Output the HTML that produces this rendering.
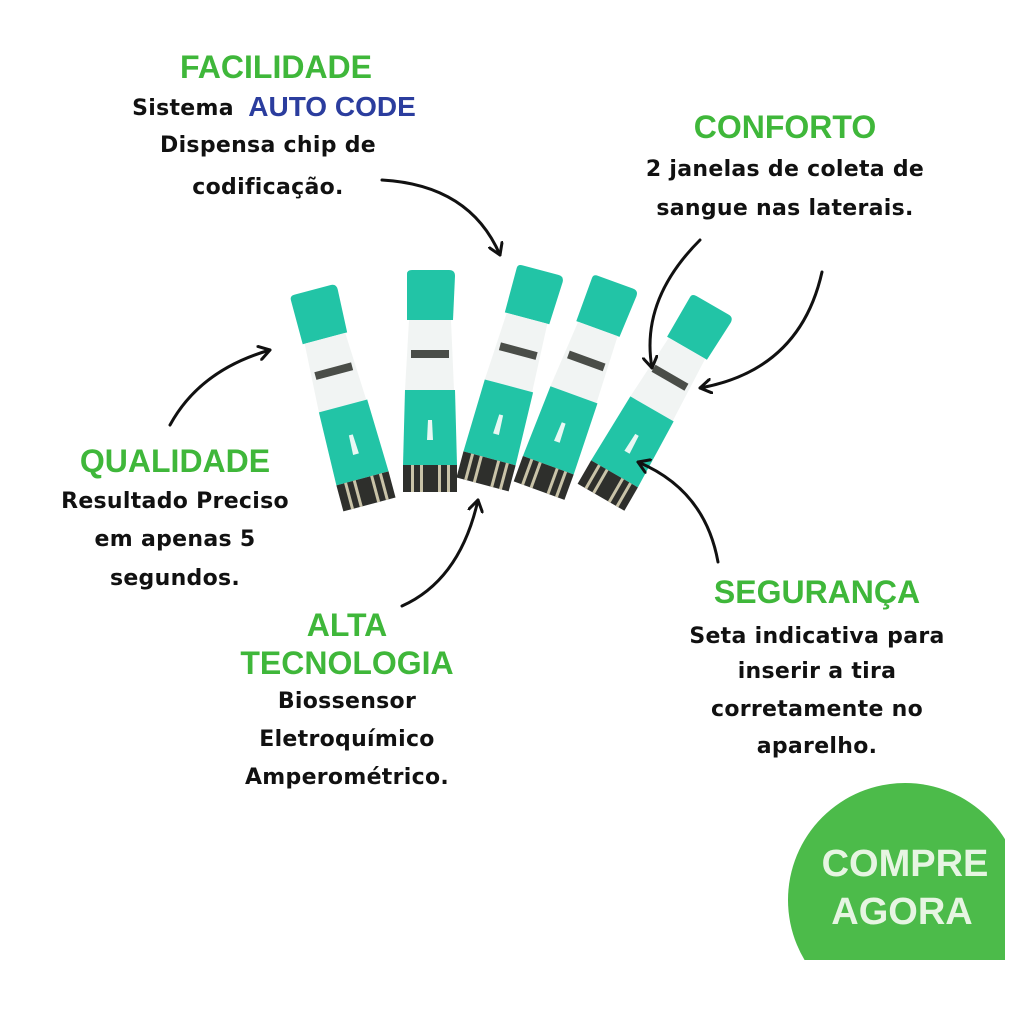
<!DOCTYPE html>
<html><head><meta charset="utf-8"><style>
html,body{margin:0;padding:0;background:#fff;}
svg{display:block;}
text{font-family:"Liberation Sans","DejaVu Sans",sans-serif;font-weight:bold;text-anchor:middle;}
.g{fill:#3fb73a;font-size:32px;}
.b{fill:#111;font-size:22px;font-family:"DejaVu Sans","Liberation Sans",sans-serif;letter-spacing:0.3px;}
</style></head><body>
<svg width="1024" height="1024" viewBox="0 0 1024 1024" xmlns="http://www.w3.org/2000/svg">
<defs>
<marker id="ah" markerWidth="16" markerHeight="16" refX="12" refY="8" orient="auto" markerUnits="userSpaceOnUse">
<path d="M1,1 L12,8 L1,15" fill="none" stroke="#111" stroke-width="3" stroke-linecap="round" stroke-linejoin="round"/>
</marker>
<clipPath id="cc"><rect x="0" y="0" width="1005" height="960"/></clipPath>
<g id="strip">
<path d="M-23,4 Q-23,0 -18,0 L19,0 Q25,0 25,6 L23,50 L-23,50 Z" fill="#22c4a6"/>
<path d="M-21,50 L21,50 L24,120 L-25,120 Z" fill="#f1f4f3"/>
<rect x="-19" y="80" width="38" height="8" fill="#4a4d48"/>
<path d="M-25,120 L25,120 L27,195 L-27,195 Z" fill="#22c4a6"/>
<path d="M-2,150 L2,150 L3,170 L-3,170 Z" fill="#e8f8f4"/>
<rect x="-27" y="195" width="54" height="27" fill="#2e2f2c"/>
<rect x="-19" y="195" width="3" height="27" fill="#c9c3a8"/>
<rect x="-10" y="195" width="3" height="27" fill="#c9c3a8"/>
<rect x="8" y="195" width="3" height="27" fill="#c9c3a8"/>
<rect x="17" y="195" width="3" height="27" fill="#c9c3a8"/>
</g>
</defs>
<use href="#strip" transform="translate(312,290) rotate(-15)"/>
<use href="#strip" transform="translate(430,270) rotate(0)"/>
<use href="#strip" transform="translate(540,270) rotate(15)"/>
<use href="#strip" transform="translate(615,282) rotate(20)"/>
<use href="#strip" transform="translate(712,305) rotate(30)"/>

<g fill="none" stroke="#111" stroke-width="3" stroke-linecap="round" marker-end="url(#ah)">
<path d="M382,180 Q470,185 500,255"/>
<path d="M170,425 Q200,370 270,350"/>
<path d="M402,606 Q460,580 478,500"/>
<path d="M700,240 Q640,300 652,368"/>
<path d="M822,272 Q800,370 700,388"/>
<path d="M718,562 Q705,490 638,462"/>
</g>

<text class="g" x="276" y="78">FACILIDADE</text>
<text class="b" x="183" y="115">Sistema</text>
<text x="332" y="116" style="fill:#2b3d9e;font-size:28px">AUTO CODE</text>
<text class="b" x="268" y="152">Dispensa chip de</text>
<text class="b" x="268" y="194">codificação.</text>

<text class="g" x="785" y="138">CONFORTO</text>
<text class="b" x="785" y="176">2 janelas de coleta de</text>
<text class="b" x="785" y="215">sangue nas laterais.</text>

<text class="g" x="175" y="472">QUALIDADE</text>
<text class="b" x="175" y="508">Resultado Preciso</text>
<text class="b" x="175" y="546">em apenas 5</text>
<text class="b" x="175" y="585">segundos.</text>

<text class="g" x="347" y="636">ALTA</text>
<text class="g" x="347" y="674">TECNOLOGIA</text>
<text class="b" x="347" y="708">Biossensor</text>
<text class="b" x="347" y="746">Eletroquímico</text>
<text class="b" x="347" y="784">Amperométrico.</text>

<text class="g" x="817" y="603">SEGURANÇA</text>
<text class="b" x="817" y="643">Seta indicativa para</text>
<text class="b" x="817" y="678">inserir a tira</text>
<text class="b" x="817" y="716">corretamente no</text>
<text class="b" x="817" y="753">aparelho.</text>

<circle cx="905" cy="900" r="117" fill="#4cbb4a" clip-path="url(#cc)"/>
<text x="905" y="876" style="fill:#e6f5e2;font-size:38px">COMPRE</text>
<text x="902" y="924" style="fill:#e6f5e2;font-size:38px">AGORA</text>
</svg>
</body></html>
